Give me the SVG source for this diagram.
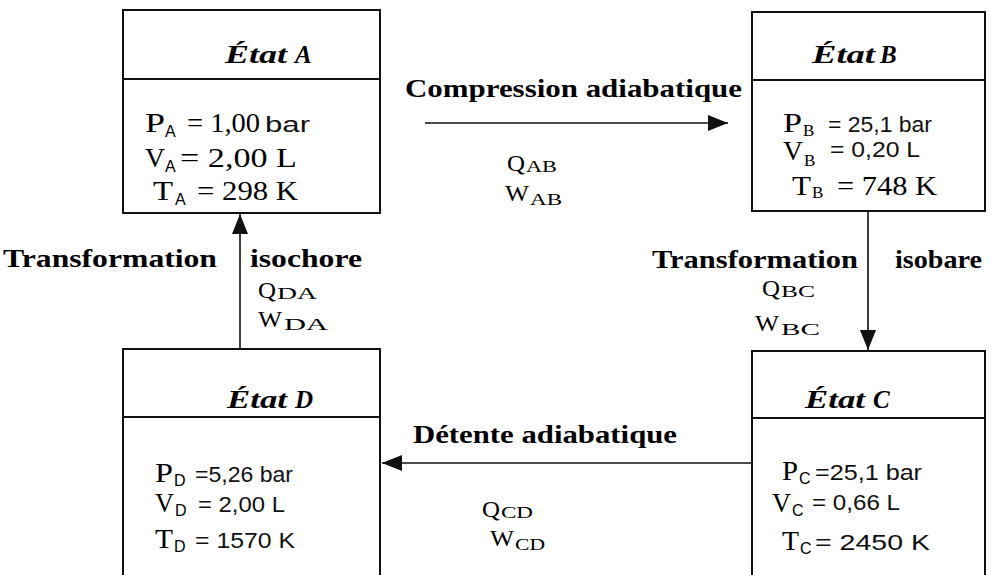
<svg xmlns="http://www.w3.org/2000/svg" width="991" height="575" viewBox="0 0 991 575">
<style>
.box{fill:#fff;stroke:#111;stroke-width:2}
.div{stroke:#111;stroke-width:2}
.con{stroke:#111;stroke-width:1.6;fill:none}
.t{font-family:"Liberation Serif",serif;font-weight:bold;font-style:italic;font-size:25px;fill:#000}
.lb{font-family:"Liberation Serif",serif;font-weight:bold;font-size:25px;fill:#000}
.v{font-family:"Liberation Serif",serif;font-size:27px;fill:#000}
.q{font-family:"Liberation Serif",serif;font-size:24px;fill:#000}
.s{font-size:17px}
.ss{font-family:"Liberation Sans",sans-serif;font-size:16px}
.ar{font-family:"Liberation Sans",sans-serif;font-size:22px;fill:#111}
</style>
<defs>
<marker id="ah" viewBox="0 0 20 16" refX="20" refY="8" markerWidth="20" markerHeight="16" markerUnits="userSpaceOnUse" orient="auto">
<path d="M0,0 L20,8 L0,16 z" fill="#111"/>
</marker>
</defs>
<rect width="991" height="575" fill="#fff"/>
<g id="connectors">
<path class="con" d="M425,123 H728" marker-end="url(#ah)"/>
<path class="con" d="M868,212 V350" marker-end="url(#ah)"/>
<path class="con" d="M752,463 H382" marker-end="url(#ah)"/>
<path class="con" d="M240,349 V214" marker-end="url(#ah)"/>
</g>
<g id="stateA">
<rect class="box" x="123" y="10" width="257" height="203"/>
<line class="div" x1="123" y1="79" x2="380" y2="79"/>
<text class="t" y="63"><tspan x="225" textLength="62" lengthAdjust="spacingAndGlyphs">État</tspan> <tspan x="295">A</tspan></text>
<text class="v" x="145" y="132" style="font-size:28px"><tspan textLength="20" lengthAdjust="spacingAndGlyphs">P</tspan><tspan class="ss" x="165" dy="5">A</tspan></text>
<text class="v" x="187" y="132" textLength="73" lengthAdjust="spacingAndGlyphs">= 1,00</text>
<text class="ar" x="265" y="132" textLength="45" lengthAdjust="spacingAndGlyphs">bar</text>
<text class="v" x="145" y="167" style="font-size:28px"><tspan textLength="20" lengthAdjust="spacingAndGlyphs">V</tspan><tspan class="ss" x="165" dy="5">A</tspan></text>
<text class="v" x="180" y="167" textLength="117" lengthAdjust="spacingAndGlyphs">= 2,00 L</text>
<text class="v" x="153" y="200" style="font-size:28px"><tspan textLength="20" lengthAdjust="spacingAndGlyphs">T</tspan><tspan class="ss" x="175" dy="5">A</tspan></text>
<text class="v" x="197" y="200" textLength="101" lengthAdjust="spacingAndGlyphs">= 298 K</text>
</g>
<g id="stateB">
<rect class="box" x="752" y="12" width="233" height="199"/>
<line class="div" x1="752" y1="80" x2="985" y2="80"/>
<text class="t" y="63"><tspan x="812" textLength="63" lengthAdjust="spacingAndGlyphs">État</tspan> <tspan x="880">B</tspan></text>
<text class="v" x="783" y="132"><tspan textLength="19" lengthAdjust="spacingAndGlyphs">P</tspan><tspan class="s" x="803" dy="4">B</tspan></text>
<text class="ar" x="828" y="132" textLength="104" lengthAdjust="spacingAndGlyphs">= 25,1 bar</text>
<text class="v" x="783" y="160"><tspan textLength="20" lengthAdjust="spacingAndGlyphs">V</tspan><tspan class="s" x="804" dy="6">B</tspan></text>
<text class="ar" x="830" y="157" textLength="90" lengthAdjust="spacingAndGlyphs">= 0,20 L</text>
<text class="v" x="792" y="195"><tspan textLength="19" lengthAdjust="spacingAndGlyphs">T</tspan><tspan class="s" x="812" dy="3">B</tspan></text>
<text class="v" x="837" y="195" textLength="100" lengthAdjust="spacingAndGlyphs">= 748 K</text>
</g>
<g id="stateC">
<rect class="box" x="752" y="351" width="233" height="240"/>
<line class="div" x1="752" y1="418" x2="985" y2="418"/>
<text class="t" y="408"><tspan x="805" textLength="60" lengthAdjust="spacingAndGlyphs">État</tspan> <tspan x="873">C</tspan></text>
<text class="v" x="782" y="480"><tspan textLength="16" lengthAdjust="spacingAndGlyphs">P</tspan><tspan class="ss" x="799" dy="4">C</tspan></text>
<text class="ar" x="815" y="480" textLength="107" lengthAdjust="spacingAndGlyphs">=25,1 bar</text>
<text class="v" x="772" y="512"><tspan textLength="19" lengthAdjust="spacingAndGlyphs">V</tspan><tspan class="ss" x="792" dy="4">C</tspan></text>
<text class="ar" x="812" y="510" textLength="88" lengthAdjust="spacingAndGlyphs">= 0,66 L</text>
<text class="v" x="782" y="550"><tspan textLength="17" lengthAdjust="spacingAndGlyphs">T</tspan><tspan class="ss" x="800" dy="4">C</tspan></text>
<text class="ar" x="815" y="550" textLength="115" lengthAdjust="spacingAndGlyphs">= 2450 K</text>
</g>
<g id="stateD">
<rect class="box" x="123" y="349" width="257" height="240"/>
<line class="div" x1="123" y1="417" x2="380" y2="417"/>
<text class="t" y="408"><tspan x="227" textLength="60" lengthAdjust="spacingAndGlyphs">État</tspan> <tspan x="295">D</tspan></text>
<text class="v" x="155" y="482"><tspan textLength="18" lengthAdjust="spacingAndGlyphs">P</tspan><tspan class="ss" x="174" dy="4">D</tspan></text>
<text class="ar" x="195" y="482" textLength="98" lengthAdjust="spacingAndGlyphs">=5,26 bar</text>
<text class="v" x="155" y="512"><tspan textLength="19" lengthAdjust="spacingAndGlyphs">V</tspan><tspan class="ss" x="175" dy="4">D</tspan></text>
<text class="ar" x="198" y="512" textLength="87" lengthAdjust="spacingAndGlyphs">= 2,00 L</text>
<text class="v" x="155" y="548"><tspan textLength="18" lengthAdjust="spacingAndGlyphs">T</tspan><tspan class="ss" x="174" dy="4">D</tspan></text>
<text class="ar" x="195" y="548" textLength="100" lengthAdjust="spacingAndGlyphs">= 1570 K</text>
</g>
<g id="labels">
<text class="lb" x="405" y="97" textLength="337" lengthAdjust="spacingAndGlyphs">Compression adiabatique</text>
<text class="q" x="507" y="171"><tspan textLength="18" lengthAdjust="spacingAndGlyphs">Q</tspan><tspan class="s" x="526" dy="1" textLength="31" lengthAdjust="spacingAndGlyphs">AB</tspan></text>
<text class="q" x="505" y="201"><tspan textLength="24" lengthAdjust="spacingAndGlyphs">W</tspan><tspan class="s" x="530" dy="4" textLength="32" lengthAdjust="spacingAndGlyphs">AB</tspan></text>
<text class="lb" x="3" y="267" textLength="214" lengthAdjust="spacingAndGlyphs">Transformation</text>
<text class="lb" x="250" y="267" textLength="112" lengthAdjust="spacingAndGlyphs">isochore</text>
<text class="q" x="258" y="298"><tspan textLength="18" lengthAdjust="spacingAndGlyphs">Q</tspan><tspan class="s" x="277" dy="1" textLength="40" lengthAdjust="spacingAndGlyphs">DA</tspan></text>
<text class="q" x="258" y="327"><tspan textLength="24" lengthAdjust="spacingAndGlyphs">W</tspan><tspan class="s" x="284" dy="3" textLength="44" lengthAdjust="spacingAndGlyphs">DA</tspan></text>
<text class="lb" x="652" y="268" textLength="206" lengthAdjust="spacingAndGlyphs">Transformation</text>
<text class="lb" x="895" y="268" textLength="87" lengthAdjust="spacingAndGlyphs">isobare</text>
<text class="q" x="762" y="296"><tspan textLength="18" lengthAdjust="spacingAndGlyphs">Q</tspan><tspan class="s" x="781" dy="1" textLength="34" lengthAdjust="spacingAndGlyphs">BC</tspan></text>
<text class="q" x="755" y="331"><tspan textLength="24" lengthAdjust="spacingAndGlyphs">W</tspan><tspan class="s" x="781" dy="4" textLength="39" lengthAdjust="spacingAndGlyphs">BC</tspan></text>
<text class="lb" x="413" y="443" textLength="264" lengthAdjust="spacingAndGlyphs">Détente adiabatique</text>
<text class="q" x="482" y="517"><tspan textLength="18" lengthAdjust="spacingAndGlyphs">Q</tspan><tspan class="s" x="501" dy="1" textLength="32" lengthAdjust="spacingAndGlyphs">CD</tspan></text>
<text class="q" x="490" y="546"><tspan textLength="24" lengthAdjust="spacingAndGlyphs">W</tspan><tspan class="s" x="515" dy="4" textLength="30" lengthAdjust="spacingAndGlyphs">CD</tspan></text>
</g>
</svg>
